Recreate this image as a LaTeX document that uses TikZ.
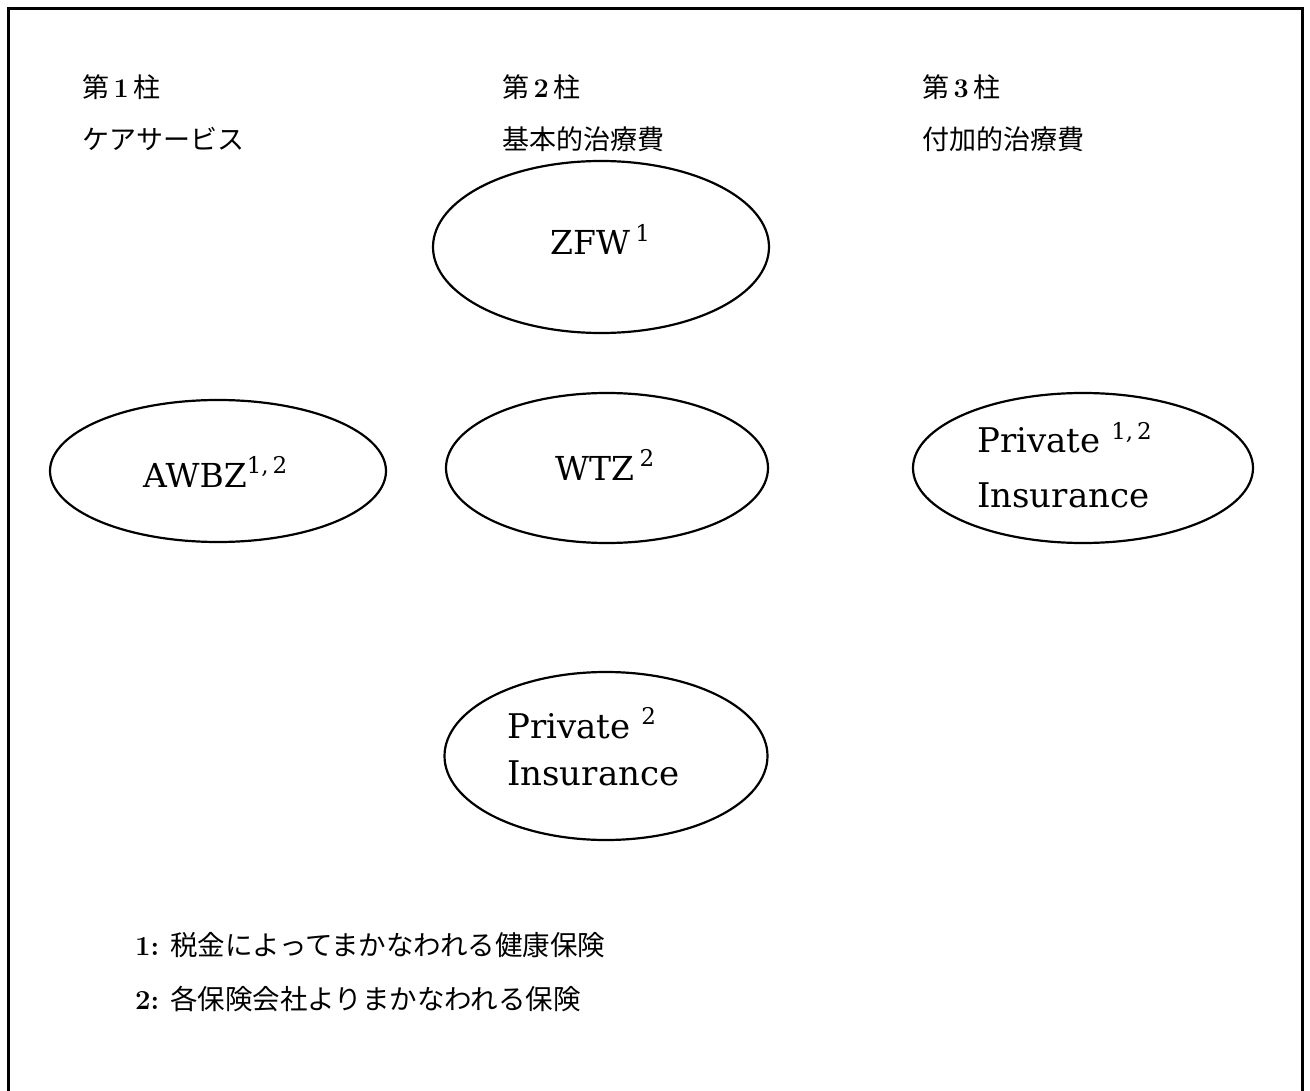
\documentclass[tikz,border=0pt]{standalone}
\usepackage{fontspec}
\newfontfamily\cjk{Noto Sans CJK JP}
\newfontfamily\lat{DejaVu Serif}
\usetikzlibrary{shapes.geometric}
\newcommand{\sups}[1]{\raisebox{0.40em}{\fontsize{23}{25}\selectfont #1}}
\begin{document}
\begin{tikzpicture}[x=1pt,y=-1pt,
  oval/.style={draw=black,line width=2.2pt,ellipse,inner sep=0pt},
  head/.style={anchor=west,inner sep=0pt,font=\cjk\fontsize{27}{30}\selectfont},
  foot/.style={anchor=west,inner sep=0pt,font=\cjk\fontsize{27.5}{30}\selectfont},
  big/.style={inner sep=0pt,anchor=base west,font=\lat\fontsize{33}{40}\selectfont},
  mid/.style={inner sep=0pt,anchor=base west,font=\lat\fontsize{34}{42}\selectfont}]
\useasboundingbox (0,0) rectangle (1310,1091);
% frame
\coordinate (bl) at (8,1091);
\coordinate (tl) at (8,9);
\coordinate (tr) at (1302,9);
\coordinate (br) at (1302,1091);
\draw[line width=3pt] (bl) -- (tl) -- (tr) -- (br);
% headings
\node[head] (h1a) at (82,87) {第\,{\rmfamily\bfseries 1}\,柱};
\node[head] (h1b) at (82,139) {ケアサービス};
\node[head] (h2a) at (502,87) {第\,{\rmfamily\bfseries 2}\,柱};
\node[head] (h2b) at (502,139) {基本的治療費};
\node[head] (h3a) at (922,87) {第\,{\rmfamily\bfseries 3}\,柱};
\node[head] (h3b) at (922,139) {付加的治療費};
% ellipses
\node[oval,minimum width=336pt,minimum height=172pt] (zfw) at (601,247) {};
\node[oval,minimum width=336pt,minimum height=142pt] (awbz) at (218,471) {};
\node[oval,minimum width=322pt,minimum height=150pt] (wtz) at (607,468) {};
\node[oval,minimum width=340pt,minimum height=150pt] (pi1) at (1083,468) {};
\node[oval,minimum width=323pt,minimum height=168pt] (pi2) at (606,756) {};
% ellipse texts
\node[big] (tzfw) at (550,255) {ZFW\,\sups{1}};
\node[big] (tawbz) at (143,487) {AWBZ\sups{1,\,2}};
\node[big] (twtz) at (555,480) {WTZ\,\sups{2}};
\node[mid] (tpi1a) at (977,453) {Private \sups{1,\,2}};
\node[mid] (tpi1b) at (977,507) {Insurance};
\node[mid] (tpi2a) at (507,738) {Private \sups{2}};
\node[mid] (tpi2b) at (507,785) {Insurance};
% footnotes
\node[foot] (f1) at (135,945) {{\rmfamily\bfseries 1:}\ \,税金によってまかなわれる健康保険};
\node[foot] (f2) at (135,999) {{\rmfamily\bfseries 2:}\ \,各保険会社よりまかなわれる保険};
\end{tikzpicture}
\end{document}
